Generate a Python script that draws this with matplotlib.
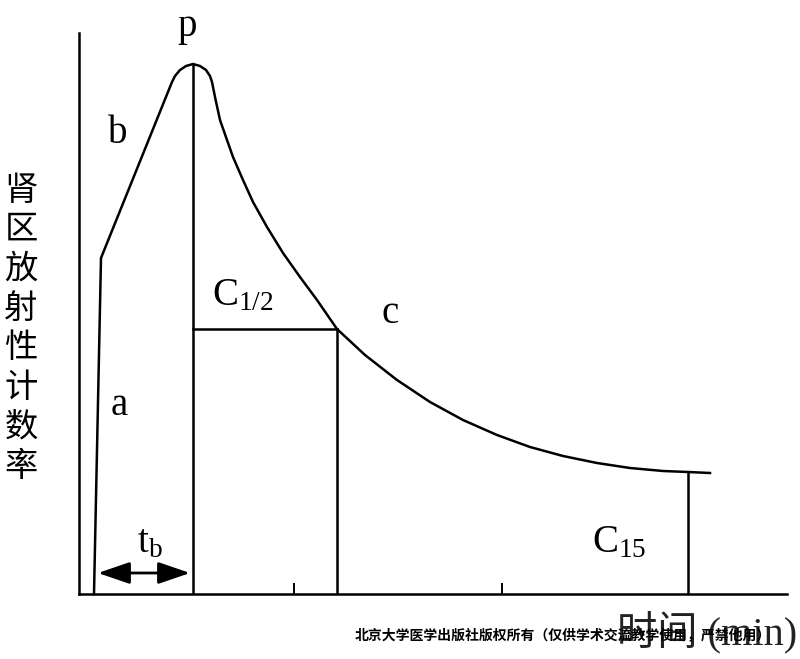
import matplotlib
matplotlib.use("Agg")
import matplotlib.pyplot as plt

plt.rcParams["font.family"] = ["Liberation Serif", "Noto Sans CJK SC"]
plt.rcParams["mathtext.fontset"] = "custom"
plt.rcParams["mathtext.rm"] = "Liberation Serif"
plt.rcParams["mathtext.it"] = "Liberation Serif:italic"

# renogram curve (arbitrary units: time on x, count rate on y)
curve_t = [15, 22, 93, 96, 101, 107, 114, 121, 127, 131, 133, 136, 141, 148, 154,
           164, 174, 188, 204, 221, 238, 258, 286, 318, 351, 384, 418, 451, 484,
           518, 551, 584, 609, 631]
curve_y = [0, 336, 512, 518, 524, 528, 530, 528, 524, 518, 512, 497, 474, 454, 437,
           414, 392, 367, 341, 317, 294, 265, 239, 214, 192, 174, 159, 147, 138,
           131, 126, 123, 122, 121]

peak_t, peak_y = 114, 530
half_t, half_y = 258, 265
c15_t, c15_y = 609, 122
tick_pos = [215, 423]
tb_start, tb_end, tb_level = 19, 111, 21

y_label = "肾区放射性计数率"
x_label = "时间 (min)"
watermark = "北京大学医学出版社版权所有（仅供学术交流教学使用，严禁他用）"

LW = 1.8
FS = 28

fig = plt.figure(figsize=(8, 6.59), dpi=100)
ax = fig.add_axes([79 / 800, 65 / 659, 708 / 800, 561 / 659])
ax.set_xlim(0, 708)
ax.set_ylim(0, 561)
for side in ["top", "right"]:
    ax.spines[side].set_visible(False)
for side in ["left", "bottom"]:
    ax.spines[side].set_linewidth(LW)
ax.set_yticks([])
ax.set_xticks(tick_pos)
ax.set_xticklabels([])
ax.tick_params(axis="x", direction="in", length=8, width=1.4)

ax.plot(curve_t, curve_y, color="black", lw=LW, solid_joinstyle="round", clip_on=False)
ax.plot([peak_t, peak_t], [0, peak_y], color="black", lw=LW)
ax.plot([peak_t, half_t], [half_y, half_y], color="black", lw=LW)
ax.plot([half_t, half_t], [0, half_y], color="black", lw=LW)
ax.plot([c15_t, c15_t], [0, c15_y], color="black", lw=LW)

ax.annotate("", xy=(tb_end, tb_level), xytext=(tb_start, tb_level),
            arrowprops=dict(arrowstyle="<|-|>,head_length=0.7,head_width=0.24",
                            color="black", lw=2, mutation_scale=28,
                            shrinkA=0, shrinkB=0))

ax.text(108, 558, "p", fontsize=FS, ha="center", va="baseline")
ax.text(39, 451, "b", fontsize=FS, ha="center", va="baseline")
ax.text(40, 179, "a", fontsize=FS, ha="center", va="baseline")
ax.text(311, 271, "c", fontsize=FS, ha="center", va="baseline")
ax.text(133, 289, r"$\mathrm{C}_{1/2}$", fontsize=FS, ha="left", va="baseline")
ax.text(58, 42, r"$\mathrm{t}_{\mathrm{b}}$", fontsize=FS, ha="left", va="baseline")
ax.text(513, 42, r"$\mathrm{C}_{15}$", fontsize=FS, ha="left", va="baseline")

for i, ch in enumerate(y_label):
    ax.text(-58, 404 - i * 39.5, ch, fontsize=24, ha="center", va="center",
            family="Noto Sans CJK SC")

ax.text(538, -38, x_label, fontsize=29, ha="left", va="center", color="#222222")
ax.text(276, -41, watermark, fontsize=10, ha="left", va="center",
        family="Noto Sans CJK SC", fontweight="bold", zorder=5)

fig.savefig("out.png", dpi=100, facecolor="white")
